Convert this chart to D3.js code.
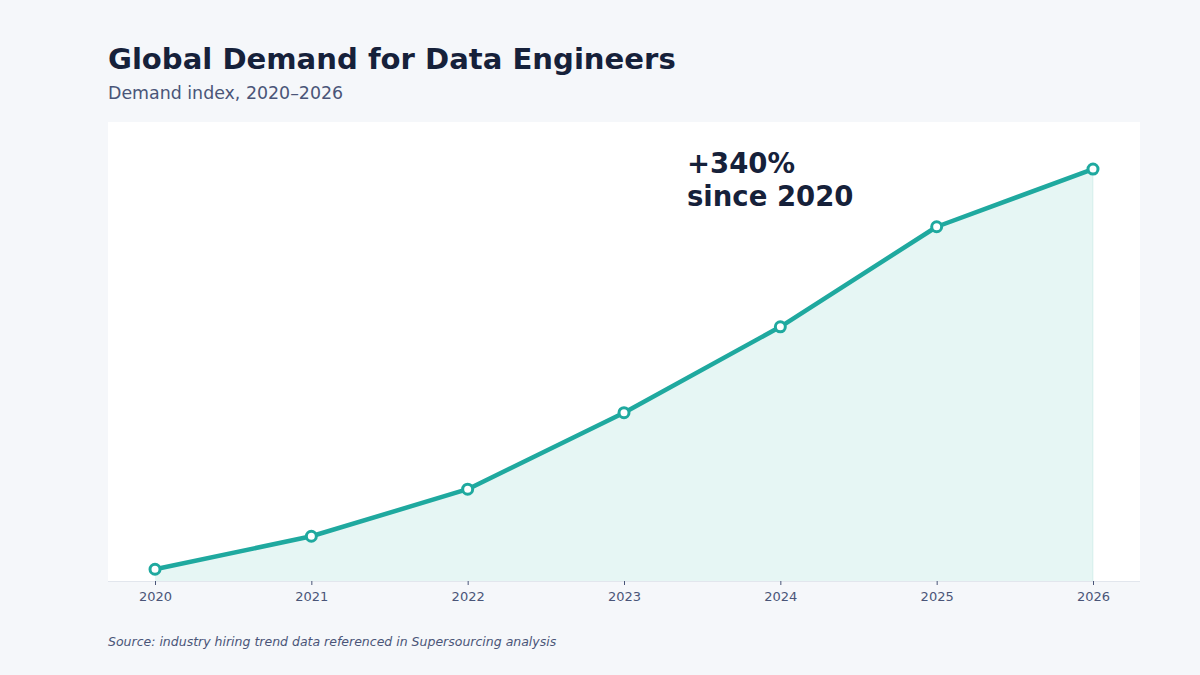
<!DOCTYPE html>
<html>
<head>
<meta charset="utf-8">
<script src="https://cdn.jsdelivr.net/npm/d3@7"></script>
<style>
  body { margin: 0; background: #f5f7fa; font-family: "DejaVu Sans", sans-serif; }
</style>
</head>
<body>
<div id="chart"></div>
<script>
const years = [2020, 2021, 2022, 2023, 2024, 2025, 2026];
const demand = [100, 128, 168, 233, 306, 391, 440];
const yDomain = [90, 480];

const width = 1200, height = 675;
const plot = { left: 108, right: 1140, top: 122, bottom: 581 };

const svg = d3.select('#chart').append('svg')
    .attr('width', width)
    .attr('height', height);

svg.append('rect')
    .attr('width', width).attr('height', height)
    .attr('fill', '#f5f7fa');

// plot background
svg.append('rect')
    .attr('x', plot.left).attr('y', plot.top)
    .attr('width', plot.right - plot.left)
    .attr('height', plot.bottom - plot.top)
    .attr('fill', '#ffffff');

const x = d3.scalePoint()
    .domain(years)
    .range([plot.left + 47, plot.right - 47]);

const y = d3.scaleLinear()
    .domain(yDomain)
    .range([plot.bottom, plot.top]);

const data = years.map((yr, i) => ({ year: yr, value: demand[i] }));

// area under the line
const area = d3.area()
    .x(d => x(d.year))
    .y0(plot.bottom)
    .y1(d => y(d.value));

svg.append('path')
    .datum(data)
    .attr('d', area)
    .attr('fill', '#1fa99f')
    .attr('fill-opacity', 0.11);

// right edge of the area
svg.append('line')
    .attr('x1', x(2026)).attr('x2', x(2026))
    .attr('y1', y(demand[demand.length - 1])).attr('y2', plot.bottom)
    .attr('stroke', '#1fa99f')
    .attr('stroke-opacity', 0.12);

// x axis
const xAxis = svg.append('g')
    .attr('transform', `translate(0, ${plot.bottom})`)
    .call(d3.axisBottom(x).tickSize(4).tickPadding(7));

xAxis.select('.domain')
    .attr('d', `M${plot.left},0.5H${plot.right}`)
    .attr('stroke', '#e2e6ed');
xAxis.selectAll('.tick line').attr('stroke', '#4a5578');
xAxis.selectAll('.tick text')
    .attr('fill', '#4a5578')
    .attr('font-size', 13)
    .attr('font-family', '"DejaVu Sans", sans-serif');

const line = d3.line()
    .x(d => x(d.year))
    .y(d => y(d.value));

svg.append('path')
    .datum(data)
    .attr('d', line)
    .attr('fill', 'none')
    .attr('stroke', '#1fa99f')
    .attr('stroke-width', 4.5)
    .attr('stroke-linejoin', 'round');

svg.selectAll('circle.pt')
    .data(data)
    .enter().append('circle')
    .attr('class', 'pt')
    .attr('cx', d => x(d.year))
    .attr('cy', d => y(d.value))
    .attr('r', 5)
    .attr('fill', '#ffffff')
    .attr('stroke', '#1fa99f')
    .attr('stroke-width', 3);

// annotation
const note = svg.append('text')
    .attr('x', 687)
    .attr('y', 173)
    .attr('fill', '#16213a')
    .attr('font-size', 27.5)
    .attr('font-weight', 'bold');
note.append('tspan').attr('x', 687).text('+340%');
note.append('tspan').attr('x', 687).attr('dy', 33).text('since 2020');

// titles
svg.append('text')
    .attr('x', 108).attr('y', 69)
    .attr('fill', '#16213a')
    .attr('font-size', 29.1)
    .attr('font-weight', 'bold')
    .text('Global Demand for Data Engineers');

svg.append('text')
    .attr('x', 108).attr('y', 99)
    .attr('fill', '#4a5578')
    .attr('font-size', 17.4)
    .text('Demand index, 2020–2026');

svg.append('text')
    .attr('x', 108).attr('y', 646)
    .attr('fill', '#4a5578')
    .attr('font-size', 12.5)
    .attr('font-style', 'italic')
    .text('Source: industry hiring trend data referenced in Supersourcing analysis');
</script>
</body>
</html>
